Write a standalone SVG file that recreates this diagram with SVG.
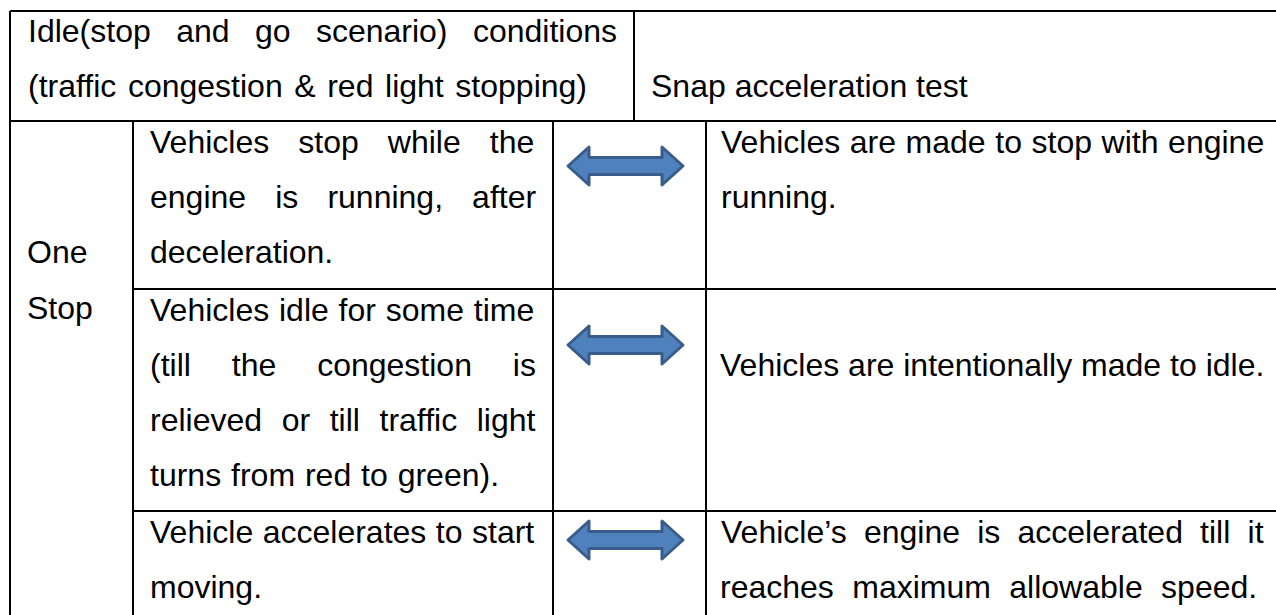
<svg xmlns="http://www.w3.org/2000/svg" xmlns:xlink="http://www.w3.org/1999/xlink" width="1276" height="615" viewBox="0 0 1276 615">
  <style>
    .t { font-family: "Liberation Sans", Arial, sans-serif; font-size: 32px; fill: #000; }
    .grid { stroke: #000; stroke-width: 2; fill: none; }
    .arr { fill: #4F81BD; stroke: #385D8A; stroke-width: 3; stroke-linejoin: round; }
  </style>
  <defs>
    <path id="dblarrow" d="M -57.5,0 L -36.5,-19 L -36.5,-8.5 L 36.5,-8.5 L 36.5,-19 L 57.5,0 L 36.5,19 L 36.5,8.5 L -36.5,8.5 L -36.5,19 Z"/>
  </defs>
  <rect x="0" y="0" width="1276" height="615" fill="#fff"/>

  <g id="table-grid" class="grid">
    <line x1="10" y1="11" x2="1276" y2="11"/>
    <line x1="10" y1="121" x2="1276" y2="121"/>
    <line x1="133" y1="289" x2="1276" y2="289"/>
    <line x1="133" y1="511" x2="1276" y2="511"/>
    <line x1="10" y1="11" x2="10" y2="615"/>
    <line x1="634" y1="11" x2="634" y2="121"/>
    <line x1="133" y1="121" x2="133" y2="615"/>
    <line x1="553" y1="121" x2="553" y2="615"/>
    <line x1="706" y1="121" x2="706" y2="615"/>
  </g>

  <g id="header-idle">
    <text class="t" x="28" y="42" style="word-spacing:16.5px">Idle(stop and go scenario) conditions</text>
    <text class="t" x="28" y="97" style="word-spacing:2.7px">(traffic congestion &amp; red light stopping)</text>
  </g>
  <g id="header-snap">
    <text class="t" x="651" y="97">Snap acceleration test</text>
  </g>
  <g id="label-one-stop">
    <text class="t" x="27" y="263">One</text>
    <text class="t" x="27" y="319">Stop</text>
  </g>
  <g id="idle-stop">
    <text class="t" x="150" y="153" style="word-spacing:20.2px">Vehicles stop while the</text>
    <text class="t" x="150" y="208" style="word-spacing:20.2px">engine is running, after</text>
    <text class="t" x="150" y="263">deceleration.</text>
  </g>
  <g id="idle-wait">
    <text class="t" x="150" y="321" style="word-spacing:0.9px">Vehicles idle for some time</text>
    <text class="t" x="150" y="376" style="word-spacing:32px">(till the congestion is</text>
    <text class="t" x="150" y="431" style="word-spacing:10.7px">relieved or till traffic light</text>
    <text class="t" x="150" y="486" style="word-spacing:1px">turns from red to green).</text>
  </g>
  <g id="idle-accelerate">
    <text class="t" x="150" y="543" style="word-spacing:0.6px">Vehicle accelerates to start</text>
    <text class="t" x="150" y="598">moving.</text>
  </g>
  <g id="snap-stop">
    <text class="t" x="721" y="153" style="word-spacing:0.7px">Vehicles are made to stop with engine</text>
    <text class="t" x="721" y="208">running.</text>
  </g>
  <g id="snap-idle">
    <text class="t" x="720" y="376">Vehicles are intentionally made to idle.</text>
  </g>
  <g id="snap-accelerate">
    <text class="t" x="721" y="543" style="word-spacing:8.3px">Vehicle’s engine is accelerated till it</text>
    <text class="t" x="720" y="598" style="word-spacing:9.5px">reaches maximum allowable speed.</text>
  </g>

  <g id="connectors">
    <use xlink:href="#dblarrow" class="arr" transform="translate(625.5,166)"/>
    <use xlink:href="#dblarrow" class="arr" transform="translate(625.5,345)"/>
    <use xlink:href="#dblarrow" class="arr" transform="translate(625.5,540)"/>
  </g>
</svg>
